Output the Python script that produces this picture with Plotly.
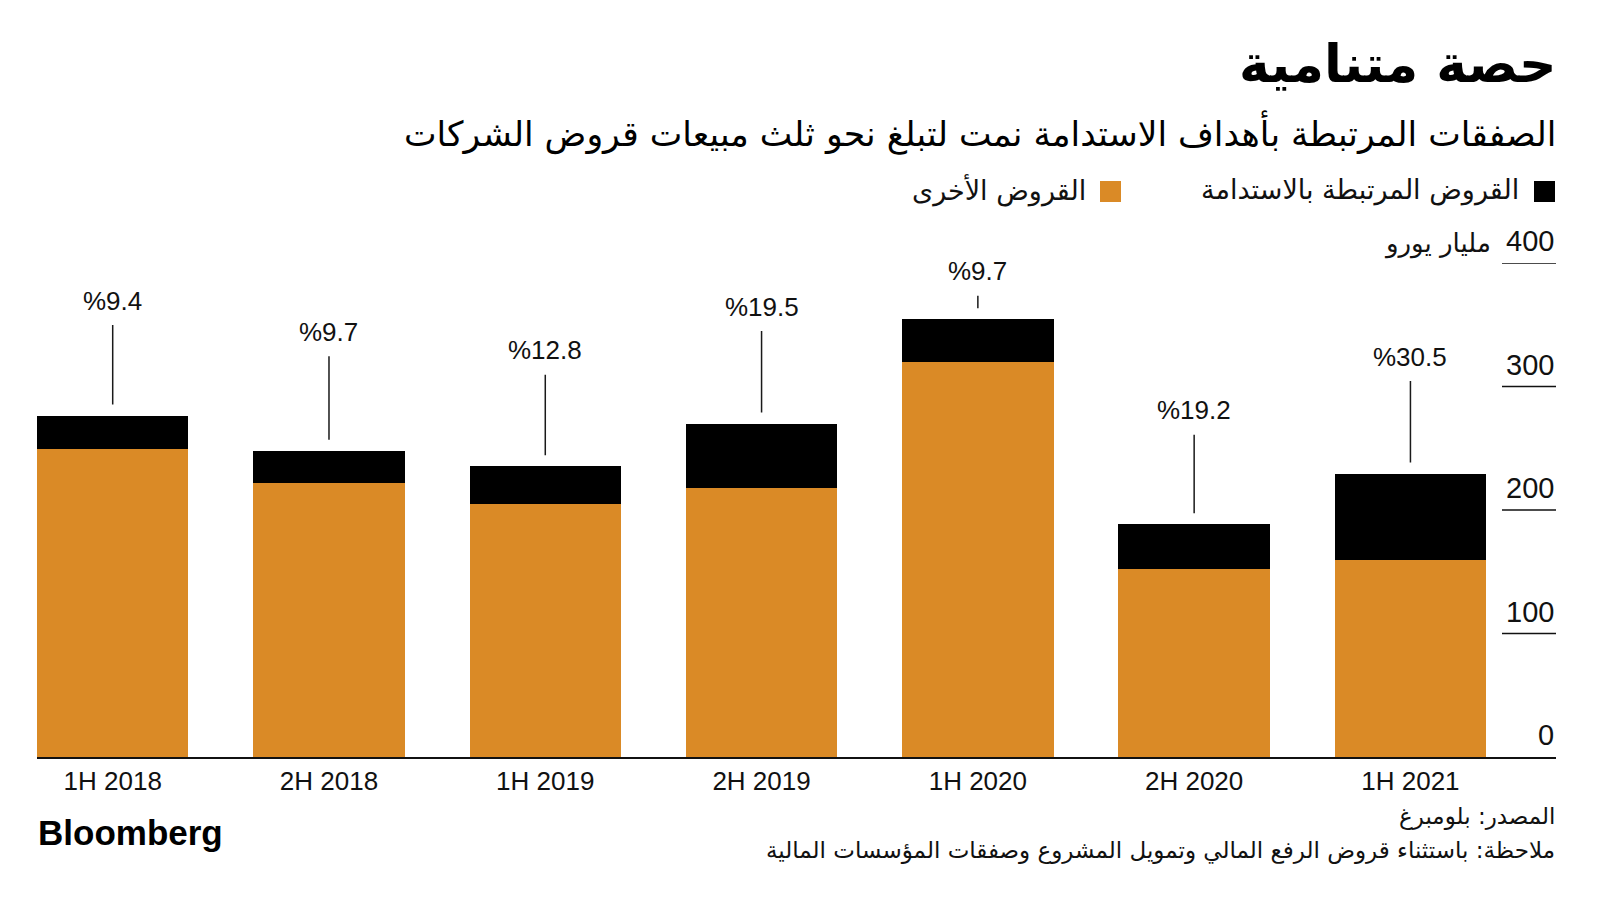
import plotly.graph_objects as go

categories = ["1H 2018", "2H 2018", "1H 2019", "2H 2019", "1H 2020", "2H 2020", "1H 2021"]
sustainability_linked = [27, 26, 30.5, 52.5, 34.5, 36, 70]
other_loans = [249.5, 222, 205, 217.5, 320, 152.5, 159.5]
share_labels = ["%9.4", "%9.7", "%12.8", "%19.5", "%9.7", "%19.2", "%30.5"]
label_offsets = [-115, -119, -116, -117, -48, -114, -117]
y_ticks = [0, 100, 200, 300, 400]

ORANGE = "#DA8A26"
AR = "DejaVu Sans"
LAT = "Liberation Sans, Arial, sans-serif"

# page is offset by the 8px body margin; positions below are in reference coordinates
PL, PR, PT, PB = 37, 1556, 263, 757


def px(x):
    return (x - PL) / (PR - PL)


def py(y):
    return (PB - y) / (PB - PT)


fig = go.Figure()
fig.add_trace(go.Bar(x=categories, y=other_loans, marker=dict(color=ORANGE, line=dict(width=0)),
                     name="القروض الأخرى", width=0.7))
fig.add_trace(go.Bar(x=categories, y=sustainability_linked, marker=dict(color="#000000", line=dict(width=0)),
                     name="القروض المرتبطة بالاستدامة", width=0.7))

annotations = []
shapes = []
for i, c in enumerate(categories):
    total = other_loans[i] + sustainability_linked[i]
    annotations.append(dict(x=c, y=total, xref="x", yref="y", text=share_labels[i],
                            showarrow=True, arrowhead=0, arrowwidth=1.5, arrowcolor="#1a1a1a",
                            ax=0, ay=label_offsets[i], standoff=11, startstandoff=8,
                            font=dict(family=LAT, size=26, color="#111111")))

for t in y_ticks:
    annotations.append(dict(x=1, y=t, xref="paper", yref="y", text=str(t), showarrow=False,
                            xanchor="right", yanchor="middle", yshift=22,
                            font=dict(family=LAT, size=29, color="#111111")))
    if t > 0:
        shapes.append(dict(type="line", xref="paper", yref="y", x0=px(1502), x1=1.0,
                           y0=t, y1=t, line=dict(color="#111111", width=1.5)))

# unit label
annotations.append(dict(x=px(1493), y=py(244), xref="paper", yref="paper", text="مليار يورو",
                        showarrow=False, xanchor="right", yanchor="middle",
                        font=dict(family=AR, size=26, color="#111111")))

# title & subtitle
annotations.append(dict(x=px(1558), y=py(64), xref="paper", yref="paper", text="<b>حصة متنامية</b>",
                        showarrow=False, xanchor="right", yanchor="middle",
                        font=dict(family=AR, size=52, color="#000000")))
annotations.append(dict(x=px(1558), y=py(132), xref="paper", yref="paper",
                        text="الصفقات المرتبطة بأهداف الاستدامة نمت لتبلغ نحو ثلث مبيعات قروض الشركات",
                        showarrow=False, xanchor="right", yanchor="middle",
                        font=dict(family=AR, size=34.6, color="#000000")))
# legend
annotations.append(dict(x=px(1521), y=py(190), xref="paper", yref="paper", text="القروض المرتبطة بالاستدامة",
                        showarrow=False, xanchor="right", yanchor="middle",
                        font=dict(family=AR, size=27, color="#111111")))
annotations.append(dict(x=px(1088), y=py(190), xref="paper", yref="paper", text="القروض الأخرى",
                        showarrow=False, xanchor="right", yanchor="middle",
                        font=dict(family=AR, size=27, color="#111111")))
shapes.append(dict(type="rect", xref="paper", yref="paper", x0=px(1534), x1=px(1555), y0=py(202), y1=py(181),
                   fillcolor="#000000", line=dict(width=0)))
shapes.append(dict(type="rect", xref="paper", yref="paper", x0=px(1100), x1=px(1121), y0=py(202), y1=py(181),
                   fillcolor=ORANGE, line=dict(width=0)))
# footer
annotations.append(dict(x=px(36), y=py(832), xref="paper", yref="paper", text="<b>Bloomberg</b>",
                        showarrow=False, xanchor="left", yanchor="middle",
                        font=dict(family=LAT, size=35, color="#000000")))
annotations.append(dict(x=px(1557), y=py(816), xref="paper", yref="paper", text="المصدر: بلومبرغ",
                        showarrow=False, xanchor="right", yanchor="middle",
                        font=dict(family=AR, size=23, color="#111111")))
annotations.append(dict(x=px(1557), y=py(850), xref="paper", yref="paper",
                        text="ملاحظة: باستثناء قروض الرفع المالي وتمويل المشروع وصفقات المؤسسات المالية",
                        showarrow=False, xanchor="right", yanchor="middle",
                        font=dict(family=AR, size=23, color="#111111")))

fig.update_layout(
    width=1600, height=900, barmode="stack", showlegend=False,
    plot_bgcolor="white", paper_bgcolor="white",
    margin=dict(l=PL - 8, r=1600 - (PR - 8), t=PT - 8, b=900 - (PB - 8)),
    annotations=annotations, shapes=shapes,
)
fig.update_xaxes(type="category", range=[-0.35, 6.673], showgrid=False, showline=True, linecolor="#111111",
                 linewidth=1.5, ticks="", tickfont=dict(family=LAT, size=26, color="#111111"), fixedrange=True)
fig.update_yaxes(range=[0, 400], showgrid=False, showticklabels=False, zeroline=False, fixedrange=True)

fig.write_html("out.html", config={"displayModeBar": False})
